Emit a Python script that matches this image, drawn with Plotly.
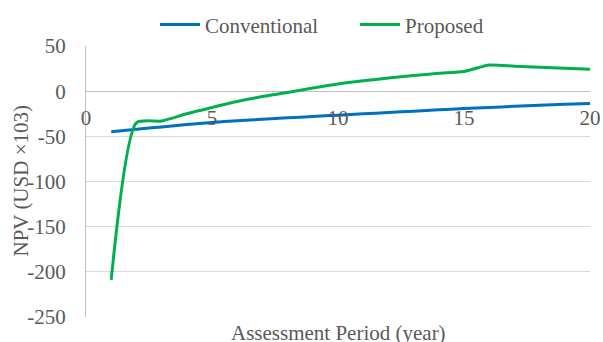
import plotly.graph_objects as go

years = list(range(1, 21))
conventional = [-45, -42.2, -39.6, -37, -34.6, -32.8, -31.1, -29.5, -28, -26.6,
                -25.1, -23.6, -22.1, -20.6, -19.2, -18, -16.8, -15.7, -14.6, -13.6]
proposed = [-209, -35, -33, -25, -18, -11.5, -6, -1.5, 3.5, 8,
            11.5, 14.5, 17.3, 19.8, 21.8, 29, 27.6, 26.5, 25.3, 24.3]
x_ticks = [0, 5, 10, 15, 20]
y_ticks = [50, 0, -50, -100, -150, -200, -250]

FONT = "Liberation Serif"
GREY = "#595959"
FS = 21

fig = go.Figure()
fig.add_trace(go.Scatter(x=years, y=conventional, name="Conventional", mode="lines",
                         line=dict(color="#0070C0", width=3, shape="spline", smoothing=0.6)))
fig.add_trace(go.Scatter(x=years, y=proposed, name="Proposed", mode="lines",
                         line=dict(color="#00B050", width=3, shape="spline", smoothing=0.6)))

fig.update_layout(
    width=603, height=342,
    margin=dict(l=86, r=13, t=46, b=25, autoexpand=False),
    paper_bgcolor="white", plot_bgcolor="white",
    font=dict(family=FONT, size=FS, color=GREY),
    showlegend=True,
    legend=dict(orientation="h", xref="container", yref="container",
                x=155 / 603, y=0.927, xanchor="left", yanchor="middle",
                font=dict(family=FONT, size=FS, color=GREY),
                itemwidth=40, tracegroupgap=0,
                entrywidth=145, entrywidthmode="pixels"),
    xaxis=dict(range=[0, 20], tickvals=x_ticks, ticktext=[str(v) for v in x_ticks],
               showgrid=False, zeroline=False, showline=False,
               anchor="free", position=250 / 300, ticks="",
               ticklabelstandoff=12,
               tickfont=dict(family=FONT, size=FS, color=GREY)),
    yaxis=dict(range=[-250, 50], tickvals=y_ticks, ticktext=[str(v) for v in y_ticks],
               showgrid=True, gridcolor="#d9d9d9", gridwidth=1,
               zeroline=True, zerolinecolor="#bfbfbf", zerolinewidth=1,
               showline=True, linecolor="#bfbfbf", linewidth=1, ticks="",
               ticklabelstandoff=15,
               automargin=False,
               tickfont=dict(family=FONT, size=FS, color=GREY)),
    annotations=[
        dict(text="Assessment Period (year)", xref="paper", yref="paper",
             x=0.5, y=0, xanchor="center", yanchor="top", yshift=-2,
             showarrow=False, font=dict(family=FONT, size=FS, color=GREY)),
        dict(text="NPV (USD ×103)", xref="paper", yref="paper",
             x=(20 - 86) / 504, y=0.5, xanchor="center", yanchor="middle",
             textangle=-90, showarrow=False,
             font=dict(family=FONT, size=FS, color=GREY)),
    ],
)

fig.write_html("out.html")
